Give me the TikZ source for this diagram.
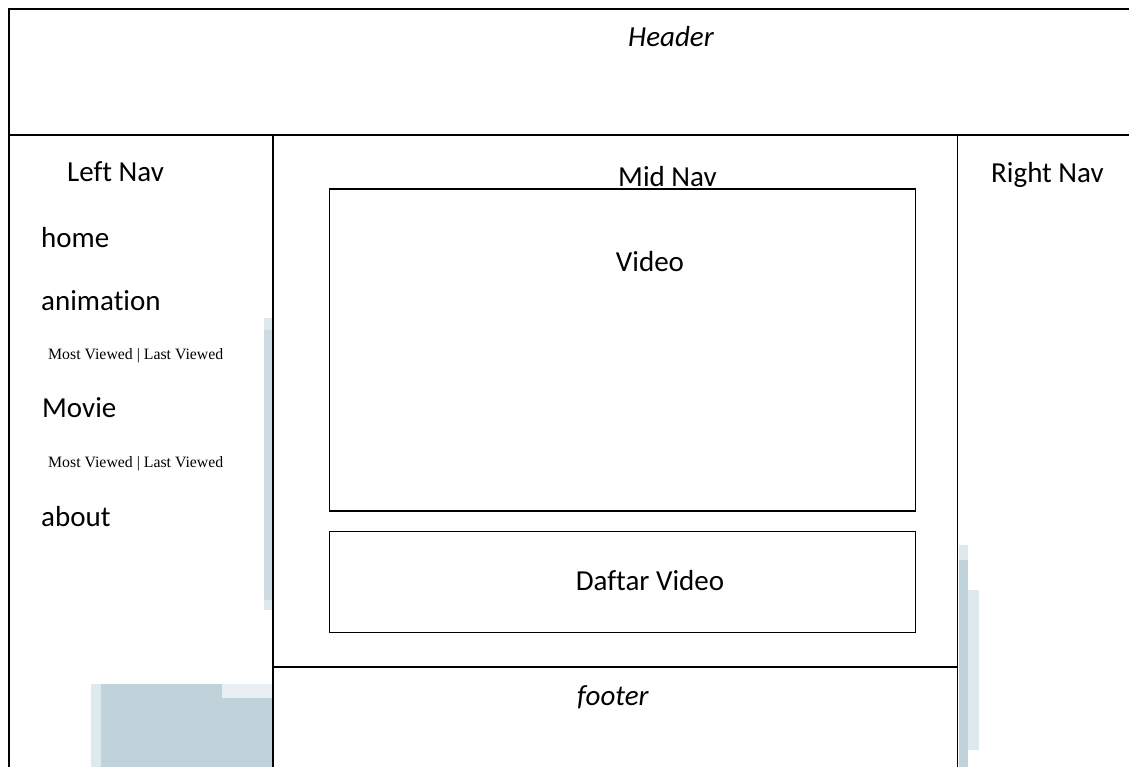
\documentclass[tikz,border=0pt]{standalone}
\usepackage{fontspec}
\setmainfont{Carlito}[Ligatures=NoCommon]
\newfontfamily\smallserif{Liberation Serif}
\definecolor{scanblue}{RGB}{193,211,218}
\definecolor{scanmid}{RGB}{205,220,226}
\definecolor{scanlight}{RGB}{222,233,238}
\definecolor{scanpale}{RGB}{232,240,244}
\tikzset{
  frame/.style={draw=black, line width=2pt},
  panel/.style={draw=black, line width=1.6pt},
  label/.style={inner sep=0pt, anchor=base west, font=\fontsize{29}{34}\selectfont},
  labelc/.style={inner sep=0pt, anchor=base, font=\fontsize{29}{34}\selectfont},
  sublink/.style={inner sep=0pt, anchor=base west, font=\smallserif\fontsize{15.8}{18}\selectfont},
}
\begin{document}
\begin{tikzpicture}[x=1pt, y=-1pt]
  % page area
  \useasboundingbox (0,0) rectangle (1129,767);
  \fill[white] (0,0) rectangle (1129,767);

  % pale blue scan marks
  \fill[scanblue] (101,684) -- (222,684) -- (222,698) -- (272,698) -- (272,767) -- (101,767) -- cycle;
  \fill[scanlight] (91,684) rectangle (101,767);
  \fill[scanpale] (222,684) rectangle (272,698);
  \fill[scanlight] (264,318) rectangle (272,610);
  \fill[scanmid] (264,330) rectangle (272,600);
  \fill[scanlight] (959,545) rectangle (968,560);
  \fill[scanblue] (959,560) rectangle (968,767);
  \fill[scanlight] (968,590) rectangle (979,750);

  % page frame and regions
  \draw[frame] (1129,9) -- (8.5,9) -- (8.5,767);
  \draw[frame] (8.5,135) -- (1129,135);
  \draw[panel] (273,135) -- (273,767);
  \draw[panel] (957.5,135) -- (957.5,767);
  \draw[panel] (273,667) -- (957.5,667);

  % header
  \node[label, font=\fontsize{29}{34}\itshape\selectfont] (header) at (628,47) {Header};

  % left navigation
  \node[label] (leftnav) at (67,182) {Left Nav};
  \node[label] (home) at (41,248) {home};
  \node[label] (animation) at (41,310) {animation};
  \node[sublink] (animsub) at (48,359) {Most Viewed | Last Viewed};
  \node[label] (movie) at (42,417) {Movie};
  \node[sublink] (moviesub) at (48,467) {Most Viewed | Last Viewed};
  \node[label] (about) at (41,526) {about};

  % middle column
  \node[label] (midnav) at (618,187) {Mid Nav};
  \draw[panel] (329.5,189) rectangle (915.5,511);
  \node[labelc] (video) at (650,272) {Video};
  \draw[panel] (329.5,531.5) rectangle (915.5,632.5);
  \node[labelc] (daftar) at (650,590) {Daftar Video};

  % right navigation
  \node[label] (rightnav) at (991,183) {Right Nav};

  % footer
  \node[label, font=\fontsize{29}{34}\itshape\selectfont] (footer) at (577,705) {footer};
\end{tikzpicture}
\end{document}
